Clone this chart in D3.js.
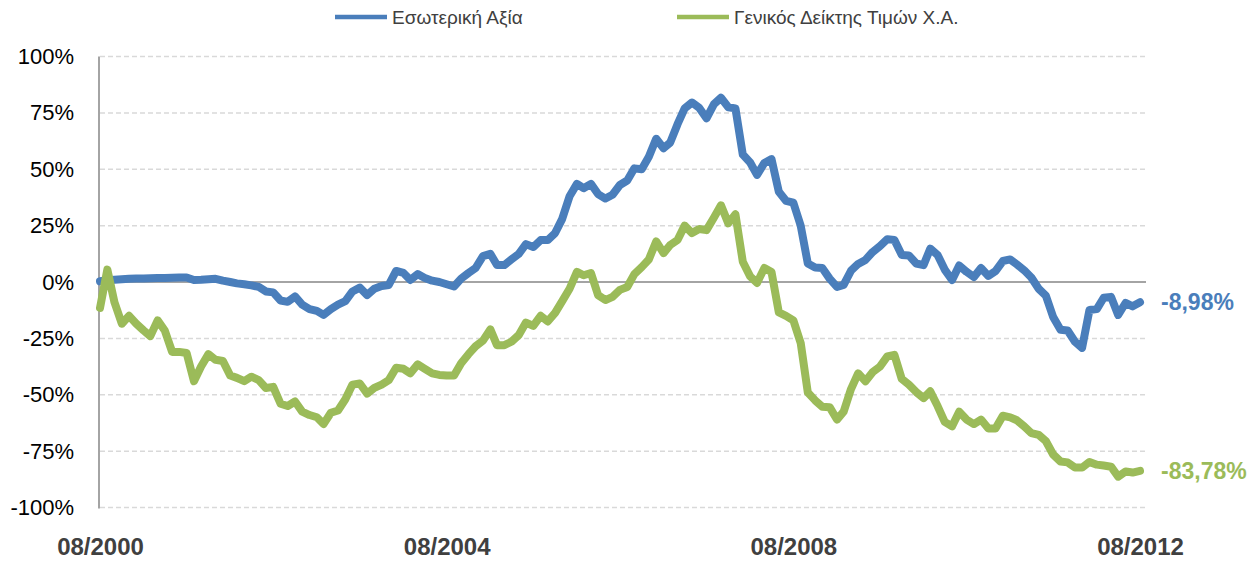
<!DOCTYPE html>
<html>
<head>
<meta charset="utf-8">
<script src="https://cdn.jsdelivr.net/npm/d3@7"></script>
<style>
  body { margin: 0; background: #fff; }
  svg { display: block; font-family: "Liberation Sans", Arial, sans-serif; }
</style>
</head>
<body>
<div id="chart"></div>
<script>
/* Constant definitions */
const WIDTH = 1250
const HEIGHT = 562
const LEFT = 100
const RIGHT = 1140
const GRID_END = 1146
const TOP = 56.5
const BOTTOM = 507.5
const LINE_WIDTH = 8

/* Data: monthly, 08/2000 .. 08/2012 */
const START = new Date(2000, 7, 1)
const seriesNames = ["Εσωτερική Αξία", "Γενικός Δείκτης Τιμών Χ.Α."]
const seriesColors = ["#4a7ebb", "#9bbb59"]
const endLabels = ["-8,98%", "-83,78%"]
const xTickLabels = ["08/2000", "08/2004", "08/2008", "08/2012"]
const yTicks = [100, 75, 50, 25, 0, -25, -50, -75, -100]

const intrinsicValue = [
  0.3, 0.8, 1.0, 1.2, 1.4, 1.5, 1.6, 1.7, 1.8, 1.8, 1.9, 2.0, 2.0, 0.9, 1.0, 1.2,
  1.4, 0.6, 0, -0.6, -1.0, -1.5, -2.2, -4.2, -4.6, -8.2, -8.8, -6.4, -10, -12, -12.8, -14.6,
  -12, -10, -8.5, -4.2, -2.5, -5.8, -3, -1.8, -1.3, 4.9, 4, 0.9, 3.5, 1.8, 0.6, 0,
  -1.0, -2.0, 1.5, 4, 6.2, 11.5, 12.5, 7.5, 7.5, 10, 12.5, 16.8, 15.5, 18.6, 18.6, 21.7,
  28, 38, 43.5, 41.6, 43.5, 39, 37, 38.7, 43, 45, 50.4, 50, 55.5, 63.5, 59.3, 61.8,
  70, 77, 79.6, 77.3, 72.6, 78.8, 81.7, 77.5, 77, 56.5, 53, 47.5, 52.8, 54.5, 40, 36,
  35.2, 25, 8.2, 6.4, 6.2, 1.5, -2.2, -1.3, 5, 8, 9.8, 13.3, 15.9, 19, 18.6, 12,
  11.8, 8.2, 7.5, 14.8, 12, 5.5, 0.9, 7.3, 4.5, 2.2, 6.2, 2.7, 4.8, 9.3, 10, 7.8,
  5.2, 2, -3, -6, -15.5, -21.2, -21.5, -26.5, -29.2, -12.4, -12, -7, -6.6, -14.6, -9.3, -10.8,
  -8.98
]

const generalIndex = [
  -11.5, 5.5, -9, -18.5, -15, -18.5, -21.5, -24, -17, -21.5, -31, -31, -31.5, -44, -37.5, -32,
  -34.5, -35, -41.5, -42.5, -44, -42, -43.5, -47, -46.5, -54, -55, -53, -57.5, -59, -60, -63,
  -58, -57, -52, -45.5, -45, -49.5, -47, -45.5, -43.5, -38, -38.5, -40.5, -36.5, -38.5, -40.5, -41.2,
  -41.5, -41.5, -36, -32, -28.5, -26, -21, -28, -28, -26.5, -23.5, -18, -19.5, -15, -17.5, -13.7,
  -8.5, -3, 4.5, 3, 4, -5.8, -8, -6.6, -3.5, -2.2, 3.5, 6.6, 10, 18, 12.8, 16.4,
  18.6, 25, 21.7, 23.5, 23, 28.5, 34, 26, 30, 9, 2.5, -0.4, 6.2, 4.4, -13.5, -15,
  -17, -27, -49, -52.5, -55.3, -55.5, -61, -57.5, -47.5, -40.5, -44, -40, -37.5, -33, -32.3, -43,
  -45.5, -48.8, -51.5, -48.5, -55, -62, -64, -57.5, -61, -63, -61, -65, -65, -59.3, -60, -61.3,
  -64, -67, -67.8, -70.5, -76.5, -79.6, -80, -82.3, -82.3, -79.8, -81, -81.4, -81.9, -86.3, -84, -84.5,
  -83.78
]

const series = [intrinsicValue, generalIndex]

/* Scales */
const monthDate = (i) => d3.timeMonth.offset(START, i)
const xScale = d3.scaleTime()
                 .domain([START, monthDate(144)])
                 .range([LEFT, RIGHT])
const yScale = d3.scaleLinear()
                 .domain([-100, 100])
                 .range([BOTTOM, TOP])

const svg = d3.select("#chart")
              .append("svg")
              .attr("width", WIDTH)
              .attr("height", HEIGHT)

/* Gridlines */
svg.append("g")
   .selectAll("line")
   .data(yTicks.filter((d) => d !== 0))
   .enter()
   .append("line")
   .attr("x1", LEFT)
   .attr("x2", GRID_END)
   .attr("y1", (d) => yScale(d))
   .attr("y2", (d) => yScale(d))
   .attr("stroke", "#d9d9d9")
   .attr("stroke-width", 1.5)
   .attr("stroke-dasharray", "5,3")

/* Zero line and y axis line */
svg.append("line")
   .attr("x1", LEFT - 1).attr("x2", GRID_END)
   .attr("y1", yScale(0)).attr("y2", yScale(0))
   .attr("stroke", "#868686").attr("stroke-width", 1.5)
svg.append("line")
   .attr("x1", LEFT - 1).attr("x2", LEFT - 1)
   .attr("y1", yScale(100)).attr("y2", yScale(-100) + 1)
   .attr("stroke", "#868686").attr("stroke-width", 1.5)

/* Y axis labels */
const yAxis = d3.axisLeft(yScale)
                .tickValues(yTicks)
                .tickSize(0)
                .tickPadding(26)
                .tickFormat((d) => d + "%")
svg.append("g")
   .attr("transform", "translate(" + LEFT + ",0)")
   .call(yAxis)
   .call((g) => g.select(".domain").remove())
   .selectAll("text")
   .attr("font-size", 22)
   .attr("font-family", "Liberation Sans, Arial, sans-serif")
   .attr("fill", "#000")

/* X axis labels */
const xAxis = d3.axisBottom(xScale)
                .tickValues(xTickLabels.map((d, i) => monthDate(i * 48)))
                .tickSize(0)
                .tickPadding(30)
                .tickFormat((d, i) => xTickLabels[i])
svg.append("g")
   .attr("transform", "translate(0," + BOTTOM + ")")
   .call(xAxis)
   .call((g) => g.select(".domain").remove())
   .selectAll("text")
   .attr("font-size", 24)
   .attr("font-weight", "bold")
   .attr("font-family", "Liberation Sans, Arial, sans-serif")
   .attr("fill", "#404040")

/* Lines */
const line = d3.line()
               .x((d, i) => xScale(monthDate(i)))
               .y((d) => yScale(d))
               .curve(d3.curveLinear)
series.forEach((values, k) => {
  svg.append("path")
     .datum(values)
     .attr("fill", "none")
     .attr("stroke", seriesColors[k])
     .attr("stroke-width", LINE_WIDTH)
     .attr("stroke-linejoin", "round")
     .attr("stroke-linecap", "round")
     .attr("d", line)
})

/* End labels */
series.forEach((values, k) => {
  svg.append("text")
     .attr("x", 1161)
     .attr("y", yScale(values[values.length - 1]))
     .attr("dy", "0.35em")
     .attr("font-size", 23)
     .attr("font-weight", "bold")
     .attr("fill", seriesColors[k])
     .text(endLabels[k])
})

/* Legend */
const legendX = [335, 677]
const legend = svg.append("g")
seriesNames.forEach((name, k) => {
  legend.append("line")
        .attr("x1", legendX[k]).attr("x2", legendX[k] + 52)
        .attr("y1", 17).attr("y2", 17)
        .attr("stroke", seriesColors[k])
        .attr("stroke-width", 4.5)
  legend.append("text")
        .attr("x", legendX[k] + 57)
        .attr("y", 17)
        .attr("dy", "0.35em")
        .attr("font-size", 19)
        .attr("fill", "#404040")
        .text(name)
})
</script>
</body>
</html>
